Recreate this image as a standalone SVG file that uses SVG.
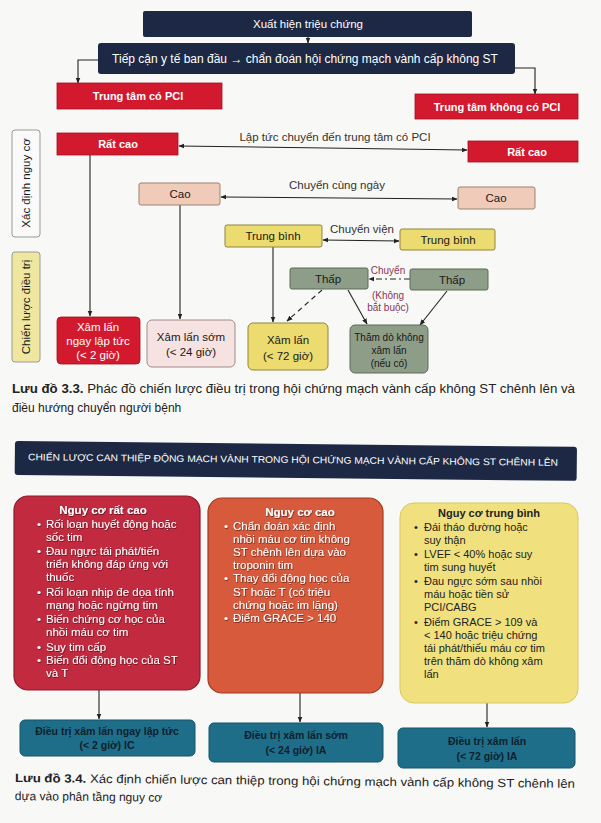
<svg xmlns="http://www.w3.org/2000/svg" width="601" height="823" viewBox="0 0 601 823">
<defs>
<marker id="ah" viewBox="0 0 10 10" refX="9" refY="5" markerWidth="6" markerHeight="6" orient="auto-start-reverse" markerUnits="userSpaceOnUse"><path d="M0,1 L10,5 L0,9 z" fill="#222"/></marker>
<filter id="sh" x="-5%" y="-5%" width="110%" height="110%"><feDropShadow dx="0.6" dy="0.8" stdDeviation="0.4" flood-color="#000" flood-opacity="0.6"/></filter>
<style>
text{font-family:"Liberation Sans",Arial,sans-serif}
.navy{fill:#1d2944}
.red{fill:#d3192d;stroke:#a01020;stroke-width:0.8}
.cao{fill:#f0cbb9;stroke:#9c8273;stroke-width:1}
.tb{fill:#ecdb6e;stroke:#8f8440;stroke-width:1}
.thap{fill:#8d9d88;stroke:#5c6a58;stroke-width:1}
.wt{fill:#fff;text-anchor:middle}
.b{font-weight:bold}
.dk{fill:#1a1a1a;text-anchor:middle}
.ln{fill:none;stroke:#222;stroke-width:1.1}
.lbl{fill:#333;font-size:11.5px;text-anchor:middle}
.mar{fill:#8a3658;font-size:10px;text-anchor:middle}
.bw{fill:#fff;font-size:11.5px;filter:url(#sh)}
.bd{fill:#222;font-size:11px}
.teal{fill:#1f6e89;stroke:#155468;stroke-width:1}
.tt{fill:#0e1f2e;font-size:10.5px;text-anchor:middle;font-weight:bold}
.cap{fill:#222;font-size:12px}
</style>
</defs>
<rect width="601" height="823" fill="#f8f8f6"/>

<g id="connectors">
<path class="ln" d="M308,37 V43" marker-end="url(#ah)"/>
<path class="ln" d="M98,60 H78 V83" marker-end="url(#ah)"/>
<path class="ln" d="M515,68 H535 V94" marker-end="url(#ah)"/>
<path class="ln" d="M179,146 L467,150" marker-start="url(#ah)" marker-end="url(#ah)"/>
<path class="ln" d="M221,197 L457,199" marker-start="url(#ah)" marker-end="url(#ah)"/>
<path class="ln" d="M323,240 L399,241" marker-start="url(#ah)" marker-end="url(#ah)"/>
<path class="ln" d="M410,279 L369,279" stroke-dasharray="6,3,2,3" marker-end="url(#ah)"/>
<path class="ln" d="M90,155 V316" marker-end="url(#ah)"/>
<path class="ln" d="M180,205 V319" marker-end="url(#ah)"/>
<path class="ln" d="M273,247 V322" marker-end="url(#ah)"/>
<path class="ln" d="M322,290 L287,321" stroke-dasharray="5,4" marker-end="url(#ah)"/>
<path class="ln" d="M348,290 L367,324" marker-end="url(#ah)"/>
<path class="ln" d="M447,291 L420,325" marker-end="url(#ah)"/>
<path class="ln" d="M99,690 V719" marker-end="url(#ah)"/>
<path class="ln" d="M300,693 V722" marker-end="url(#ah)"/>
<path class="ln" d="M487,703 V727" marker-end="url(#ah)"/>
<text class="lbl" x="335" y="141">Lập tức chuyển đến trung tâm có PCI</text>
<text class="lbl" x="337" y="189">Chuyển cùng ngày</text>
<text class="lbl" x="362" y="233">Chuyển viện</text>
<text class="mar" x="388" y="274" font-size="11">Chuyển</text>
<text class="mar" x="388" y="299">(Không</text>
<text class="mar" x="388" y="311">bắt buộc)</text>
</g>

<g id="n-symptom"><rect class="navy" x="143" y="11" width="329" height="26" rx="2"/><text class="wt" x="308" y="28" font-size="11.5">Xuất hiện triệu chứng</text></g>
<g id="n-access"><rect class="navy" x="98" y="43" width="417" height="31" rx="3"/><text class="wt" x="305" y="63" font-size="12">Tiếp cận y tế ban đầu → chẩn đoán hội chứng mạch vành cấp không ST</text></g>
<g id="n-pci"><rect class="red" x="57" y="83" width="165" height="26"/><text class="wt b" x="138" y="100" font-size="11">Trung tâm có PCI</text></g>
<g id="n-nopci"><rect class="red" x="415" y="94" width="163" height="25"/><text class="wt b" x="497" y="111" font-size="11">Trung tâm không có PCI</text></g>

<g id="l-risk"><rect x="12" y="130" width="28" height="107" rx="3" fill="#fafafa" stroke="#999" stroke-width="1"/><text class="dk" transform="translate(30,183) rotate(-90)" font-size="11.5">Xác định nguy cơ</text></g>
<g id="l-strategy"><rect x="12" y="252" width="28" height="110" rx="3" fill="#efe6a0" stroke="#999" stroke-width="1"/><text class="dk" transform="translate(30,307) rotate(-90)" font-size="11.5">Chiến lược điều trị</text></g>

<g id="n-ratcao-l"><rect class="red" x="57" y="133" width="121" height="22"/><text class="wt b" x="118" y="148" font-size="11">Rất cao</text></g>
<g id="n-ratcao-r"><rect class="red" x="468" y="141" width="110" height="21"/><text class="wt b" x="527" y="156" font-size="11">Rất cao</text></g>
<g id="n-cao-l"><rect class="cao" x="139" y="183" width="81" height="22" rx="2"/><text class="dk" x="180" y="198" font-size="11.5">Cao</text></g>
<g id="n-cao-r"><rect class="cao" x="458" y="187" width="77" height="22" rx="2"/><text class="dk" x="496" y="202" font-size="11.5">Cao</text></g>
<g id="n-tb-l"><rect class="tb" x="225" y="225" width="97" height="22" rx="2"/><text class="dk" x="273" y="240" font-size="11.5">Trung bình</text></g>
<g id="n-tb-r"><rect class="tb" x="400" y="229" width="95" height="21" rx="2"/><text class="dk" x="448" y="244" font-size="11.5">Trung bình</text></g>
<g id="n-thap-l"><rect class="thap" x="290" y="268" width="78" height="21" rx="2"/><text class="dk" x="328" y="283" font-size="11.5">Thấp</text></g>
<g id="n-thap-r"><rect class="thap" x="410" y="269" width="78" height="21" rx="2"/><text class="dk" x="452" y="284" font-size="11.5">Thấp</text></g>

<g id="n-xl-now"><rect class="red" x="57" y="317" width="83" height="47" rx="4"/><text class="wt" font-size="11.5"><tspan x="98" y="331">Xâm lấn</tspan><tspan x="98" y="345">ngay lập tức</tspan><tspan x="98" y="359">(&lt; 2 giờ)</tspan></text></g>
<g id="n-xl-early"><rect x="147" y="320" width="88" height="47" rx="5" fill="#f6e2e0" stroke="#9e8a88" stroke-width="1"/><text class="dk" font-size="11.5"><tspan x="191" y="341">Xâm lấn sớm</tspan><tspan x="191" y="356">(&lt; 24 giờ)</tspan></text></g>
<g id="n-xl-72"><rect class="tb" x="248" y="323" width="80" height="47" rx="5"/><text class="dk" font-size="11.5"><tspan x="288" y="344">Xâm lấn</tspan><tspan x="288" y="360">(&lt; 72 giờ)</tspan></text></g>
<g id="n-noninv"><rect class="thap" x="350" y="325" width="78" height="48" rx="5"/><text class="dk" font-size="10"><tspan x="389" y="341">Thăm dò không</tspan><tspan x="389" y="354">xâm lấn</tspan><tspan x="389" y="367">(nếu có)</tspan></text></g>

<g id="caption1"><text class="cap" x="12" y="393" textLength="563" lengthAdjust="spacingAndGlyphs"><tspan font-weight="bold">Lưu đồ 3.3.</tspan> Phác đồ chiến lược điều trị trong hội chứng mạch vành cấp không ST chênh lên và</text><text class="cap" x="12" y="412">điều hướng chuyển người bệnh</text></g>

<g id="n-header"><rect class="navy" x="15" y="441" width="562" height="34" rx="3" transform="rotate(0.6 15 441)"/><text x="293" y="463" fill="#fff" font-size="9.5" text-anchor="middle" textLength="530" lengthAdjust="spacingAndGlyphs" transform="rotate(0.6 293 463)">CHIẾN LƯỢC CAN THIỆP ĐỘNG MẠCH VÀNH TRONG HỘI CHỨNG MẠCH VÀNH CẤP KHÔNG ST CHÊNH LÊN</text></g>

<g id="n-veryhigh"><rect x="14" y="496" width="186" height="194" rx="14" fill="#c22a40" stroke="#8e1a2a" stroke-width="1.2"/>
<text class="bw" x="103" y="514" text-anchor="middle" font-weight="bold">Nguy cơ rất cao</text>
<text class="bw"><tspan x="37" y="528">•</tspan><tspan x="46" y="528">Rối loạn huyết động hoặc</tspan><tspan x="46" y="541">sốc tim</tspan><tspan x="37" y="555">•</tspan><tspan x="46" y="555">Đau ngực tái phát/tiến</tspan><tspan x="46" y="568">triển không đáp ứng với</tspan><tspan x="46" y="581">thuốc</tspan><tspan x="37" y="596">•</tspan><tspan x="46" y="596">Rối loạn nhịp đe dọa tính</tspan><tspan x="46" y="609">mạng hoặc ngừng tim</tspan><tspan x="37" y="623">•</tspan><tspan x="46" y="623">Biến chứng cơ học của</tspan><tspan x="46" y="636">nhồi máu cơ tim</tspan><tspan x="37" y="651">•</tspan><tspan x="46" y="651">Suy tim cấp</tspan><tspan x="37" y="664">•</tspan><tspan x="46" y="664">Biến đổi động học của ST</tspan><tspan x="46" y="677">và T</tspan></text></g>

<g id="n-high"><rect x="208" y="498" width="175" height="195" rx="14" fill="#d75a3c" stroke="#a2391f" stroke-width="1.2"/>
<text class="bw" x="300" y="516" text-anchor="middle" font-weight="bold">Nguy cơ cao</text>
<text class="bw"><tspan x="224" y="530">•</tspan><tspan x="233" y="530">Chẩn đoán xác định</tspan><tspan x="233" y="543">nhồi máu cơ tim không</tspan><tspan x="233" y="556">ST chênh lên dựa vào</tspan><tspan x="233" y="569">troponin tim</tspan><tspan x="224" y="582">•</tspan><tspan x="233" y="582">Thay đổi động học của</tspan><tspan x="233" y="596">ST hoặc T (có triệu</tspan><tspan x="233" y="609">chứng hoặc im lặng)</tspan><tspan x="224" y="622">•</tspan><tspan x="233" y="622">Điểm GRACE &gt; 140</tspan></text></g>

<g id="n-medium"><rect x="400" y="503" width="178" height="200" rx="14" fill="#f1e17e" stroke="#d9c860" stroke-width="1"/>
<text class="bd" x="489" y="517" text-anchor="middle" font-weight="bold" font-size="11.5">Nguy cơ trung bình</text>
<text class="bd"><tspan x="414" y="531">•</tspan><tspan x="424" y="531">Đái tháo đường hoặc</tspan><tspan x="424" y="544">suy thận</tspan><tspan x="414" y="558">•</tspan><tspan x="424" y="558">LVEF &lt; 40% hoặc suy</tspan><tspan x="424" y="571">tim sung huyết</tspan><tspan x="414" y="585">•</tspan><tspan x="424" y="585">Đau ngực sớm sau nhồi</tspan><tspan x="424" y="598">máu hoặc tiền sử</tspan><tspan x="424" y="611">PCI/CABG</tspan><tspan x="414" y="626">•</tspan><tspan x="424" y="626">Điểm GRACE &gt; 109 và</tspan><tspan x="424" y="639">&lt; 140 hoặc triệu chứng</tspan><tspan x="424" y="652">tái phát/thiếu máu cơ tim</tspan><tspan x="424" y="665">trên thăm dò không xâm</tspan><tspan x="424" y="678">lấn</tspan></text></g>

<g id="n-tx1"><rect class="teal" x="20" y="720" width="175" height="36" rx="5"/><text class="tt"><tspan x="107" y="735">Điều trị xâm lấn ngay lập tức</tspan><tspan x="107" y="749">(&lt; 2 giờ) IC</tspan></text></g>
<g id="n-tx2"><rect class="teal" x="209" y="723" width="174" height="39" rx="5"/><text class="tt"><tspan x="296" y="739">Điều trị xâm lấn sớm</tspan><tspan x="296" y="754">(&lt; 24 giờ) IA</tspan></text></g>
<g id="n-tx3"><rect class="teal" x="398" y="728" width="177" height="40" rx="5"/><text class="tt"><tspan x="487" y="745">Điều trị xâm lấn</tspan><tspan x="487" y="760">(&lt; 72 giờ) IA</tspan></text></g>

<g id="caption2" transform="rotate(0.6 15 782)"><text class="cap" x="15" y="782" textLength="560" lengthAdjust="spacingAndGlyphs"><tspan font-weight="bold">Lưu đồ 3.4.</tspan> Xác định chiến lược can thiệp trong hội chứng mạch vành cấp không ST chênh lên</text><text class="cap" x="15" y="800">dựa vào phân tầng nguy cơ</text></g>
</svg>
